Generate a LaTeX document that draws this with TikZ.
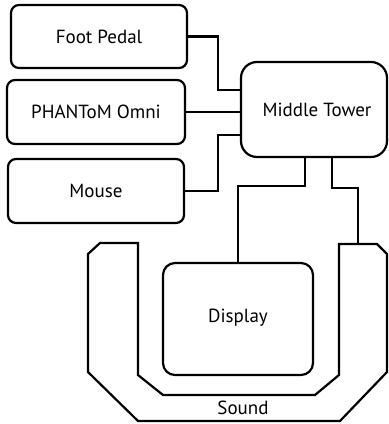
\documentclass[tikz,border=0pt]{standalone}
\usepackage{fontspec}
\setmainfont{PT Sans}
\begin{document}
\begin{tikzpicture}[x=1pt,y=-1pt,
  lbl/.style={font=\fontsize{19}{22}\selectfont},
  box/.style={draw=black,line width=2.2pt,rounded corners=8pt,inner sep=0pt,outer sep=0pt,lbl},
  wire/.style={draw=black,line width=2.2pt}]
\useasboundingbox (0,0) rectangle (389,424);
\node[box,minimum width=176pt,minimum height=63pt] (fp) at (99,36.5) {\raisebox{-5pt}{Foot Pedal}};
\node[box,minimum width=178pt,minimum height=64pt] (po) at (96,112) {PHANToM Omni};
\node[box,minimum width=176pt,minimum height=64pt] (ms) at (96,191) {\raisebox{-3pt}{Mouse}};
\node[box,rounded corners=16pt,minimum width=146pt,minimum height=95pt] (mt) at (314,109.5) {\hspace*{6pt}Middle Tower};
\node[box,rounded corners=12pt,minimum width=150pt,minimum height=112pt] (dp) at (238,319) {\raisebox{6pt}{Display}};
% Sound
\draw[wire,line join=miter] (88,254) -- (100,243) -- (138,243) -- (138,375) -- (163,395) -- (315,395) -- (339,375) -- (339,244) -- (377,244) -- (387,254) -- (387,372) -- (340,421) -- (138,421) -- (88,372) -- cycle;
\coordinate (sdtop) at (358,244);
\node[lbl] (sd) at (243,408) {Sound};
% connectors
\draw[wire] (fp.east) -| (218,90) -- (mt.west |- 218,90);
\draw[wire] (po.east) -- (mt.west |- po.east);
\draw[wire] (ms.east) -| (218,135) -- (mt.west |- 218,135);
\draw[wire] (mt.south -| 305,0) |- (dp.north |- 0,186) -- (dp.north);
\draw[wire] (mt.south -| 332,0) |- (sdtop |- 0,188) -- (sdtop);
\end{tikzpicture}
\end{document}
